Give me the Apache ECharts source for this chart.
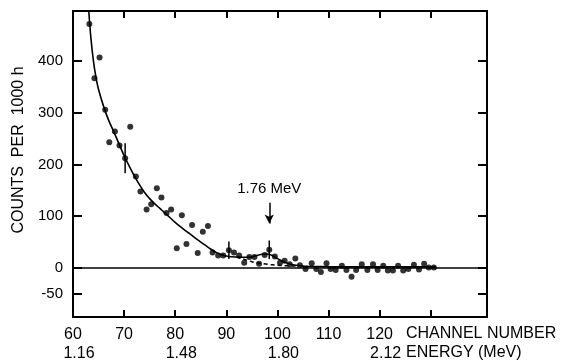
<!DOCTYPE html>
<html>
<head>
<meta charset="utf-8">
<script src="https://cdn.jsdelivr.net/npm/echarts@6/dist/echarts.min.js"></script>
<style>
  html, body { margin: 0; background: #fff; }
  #chart { width: 568px; height: 364px; }
</style>
</head>
<body>
<div id="chart"></div>
<script>
// axis ticks / labels
const channelTicks = [60, 70, 80, 90, 100, 110, 120];
const channelMinor = [70, 80, 90, 100, 110, 120, 130];
const energyLabels = ['1.16', '', '1.48', '', '1.80', '', '2.12'];
const countTicks = [-50, 0, 100, 200, 300, 400];

// measured points (channel, counts per 1000 h)
const pointChannels = [
  63.2, 64.2, 65.2, 66.3, 67.1, 68.2, 69.1, 70.2, 71.2, 72.3,
  73.2, 74.4, 75.3, 76.4, 77.3, 78.3, 79.2, 80.3, 81.3, 82.2,
  83.3, 84.4, 85.4, 86.4, 87.3, 88.4, 89.4, 90.5, 91.5, 92.5,
  93.5, 94.5, 95.5, 96.4, 97.5, 98.4, 99.5, 100.5, 101.4, 102.4,
  103.5, 104.4, 105.5, 106.7, 107.6, 108.5, 109.6, 110.4, 111.4, 112.6,
  113.5, 114.5, 115.4, 116.5, 117.6, 118.7, 119.6, 120.7, 121.6, 122.6,
  123.6, 124.6, 125.6, 126.7, 127.7, 128.7, 129.6, 130.6
];
const pointCounts = [
  472, 367, 407, 306, 243, 264, 237, 212, 273, 177,
  148, 113, 123, 154, 136, 106, 113, 38, 102, 46,
  83, 29, 70, 81, 30, 24, 24, 34, 30, 24,
  10, 21, 21, 8, 25, 35, 22, 10, 14, 7,
  18, 5, -2, 9, -2, -8, 9, -2, -4, 4,
  -4, -17, -4, 7, -4, 7, -4, 4, -5, -5,
  4, -5, -2, 6, -3, 8, 1, 1
];

// error bars
const errChannels = [70.2, 90.5, 98.4];
const errCounts = [212, 34, 35];
const errSizes = [29, 17, 18];

// fitted curve (solid)
const fitChannels = [
  63.1, 63.5, 64, 64.5, 65, 66, 67, 68, 69, 70, 71, 72, 73, 74, 75, 76, 77, 78, 79, 80,
  81, 82, 83, 84, 85, 86, 87, 88, 89, 90, 91, 92, 93, 94, 95, 96, 97, 98, 99, 100,
  101, 102, 103, 104, 105, 106, 108, 112, 131
];
const fitCounts = [
  495, 445, 400, 368, 345, 312, 285, 263, 240, 217, 197, 178, 161, 146, 134, 124, 115, 106, 97, 88,
  80, 72, 65, 57, 50, 43, 36, 30, 26, 23, 21.5, 21, 20.5, 20.5, 21.5, 24, 26.5, 27, 24, 18,
  13, 9, 6, 4.5, 3.5, 3, 2.5, 2, 2
];

// background under the peak (dashed)
const bgChannels = [92, 93, 94, 95, 96, 97, 98, 99, 100, 101, 102, 103, 104];
const bgCounts = [21, 18, 15, 12, 10, 8.5, 7, 6, 5, 4.5, 4, 3.5, 3.5];

const peakLabel = '1.76 MeV';
const peakChannel = 98.4;
const arrowTop = 126;
const arrowTip = 86;

const ink = '#000';
const font = '"Liberation Sans", Arial, sans-serif';

const chart = echarts.init(document.getElementById('chart'), null, { renderer: 'canvas' });

// ticks point inward on all four sides of the frame
const xBase = {
  type: 'value',
  min: 60,
  max: 141,
  splitLine: { show: false },
  axisLine: { onZero: false, lineStyle: { color: ink, width: 2 } },
  axisTick: { show: true, inside: true, length: 7, customValues: channelMinor, lineStyle: { color: ink, width: 2 } },
};
const yBase = {
  type: 'value',
  min: -95,
  max: 497,
  splitLine: { show: false },
  axisLine: { show: true, onZero: false, lineStyle: { color: ink, width: 2 } },
  axisTick: { show: true, inside: true, length: 9, customValues: countTicks, lineStyle: { color: ink, width: 2 } },
};

chart.setOption({
  backgroundColor: '#fff',
  animation: false,
  grid: { left: 73, right: 81, top: 11, bottom: 47 },
  xAxis: [
    {
      ...xBase,
      position: 'bottom',
      axisLabel: {
        customValues: channelTicks,
        margin: 8,
        formatter: (v) => `{a|${v}}\n{b|${energyLabels[channelTicks.indexOf(v)] || ' '}}`,
        rich: {
          a: { fontSize: 16, fontFamily: font, color: ink, lineHeight: 19 },
          b: { fontSize: 16, fontFamily: font, color: ink, lineHeight: 19, padding: [0, 0, 0, 12] },
        },
      },
    },
    { ...xBase, position: 'top', axisLabel: { show: false } },
  ],
  yAxis: [
    {
      ...yBase,
      position: 'left',
      axisLabel: { customValues: countTicks, margin: 10, fontSize: 15, fontFamily: font, color: ink },
    },
    { ...yBase, position: 'right', axisLabel: { show: false } },
  ],
  graphic: [
    {
      type: 'text', x: 19, y: 150, rotation: Math.PI / 2,
      style: { text: 'COUNTS  PER  1000 h', fontSize: 16, fontFamily: font, fill: ink, align: 'center', verticalAlign: 'middle' },
    },
    {
      type: 'text', x: 406, y: 334,
      style: { text: 'CHANNEL NUMBER', fontSize: 16, fontFamily: font, fill: ink, align: 'left', verticalAlign: 'middle' },
    },
    {
      type: 'text', x: 406, y: 353,
      style: { text: 'ENERGY (MeV)', fontSize: 16, fontFamily: font, fill: ink, align: 'left', verticalAlign: 'middle' },
    },
  ],
  series: [
    {
      name: 'fit',
      type: 'line',
      smooth: 0.3,
      showSymbol: false,
      data: fitChannels.map((c, i) => [c, fitCounts[i]]),
      lineStyle: { color: ink, width: 1.6 },
      z: 2,
      markLine: {
        silent: true,
        animation: false,
        data: [
          [
            { coord: [peakChannel, arrowTop], symbol: 'none' },
            { coord: [peakChannel, arrowTip], symbol: 'arrow', symbolSize: [7, 9] },
          ],
        ],
        lineStyle: { color: ink, width: 1.5, type: 'solid' },
        label: { show: true, position: 'start', distance: 6, formatter: peakLabel, fontSize: 15, fontFamily: font, color: ink },
      },
    },
    {
      name: 'background',
      type: 'line',
      smooth: 0.3,
      showSymbol: false,
      data: bgChannels.map((c, i) => [c, bgCounts[i]]),
      lineStyle: { color: ink, width: 1.5, type: [4, 3] },
      z: 2,
    },
    {
      name: 'data',
      type: 'scatter',
      symbol: 'circle',
      symbolSize: 6,
      itemStyle: { color: ink },
      data: pointChannels.map((c, i) => [c, pointCounts[i]]),
      z: 3,
      markLine: {
        silent: true,
        animation: false,
        symbol: 'none',
        data: [{ yAxis: 0 }],
        lineStyle: { color: ink, width: 1.5, type: 'solid' },
        label: { show: false },
      },
    },
    {
      name: 'errors',
      type: 'custom',
      data: errChannels.map((c, i) => [c, errCounts[i] - errSizes[i], errCounts[i] + errSizes[i]]),
      renderItem: (params, api) => {
        const lo = api.coord([api.value(0), api.value(1)]);
        const hi = api.coord([api.value(0), api.value(2)]);
        return {
          type: 'line',
          shape: { x1: lo[0], y1: lo[1], x2: hi[0], y2: hi[1] },
          style: { stroke: ink, lineWidth: 1.5 },
        };
      },
      z: 4,
    },
  ],
});
</script>
</body>
</html>
